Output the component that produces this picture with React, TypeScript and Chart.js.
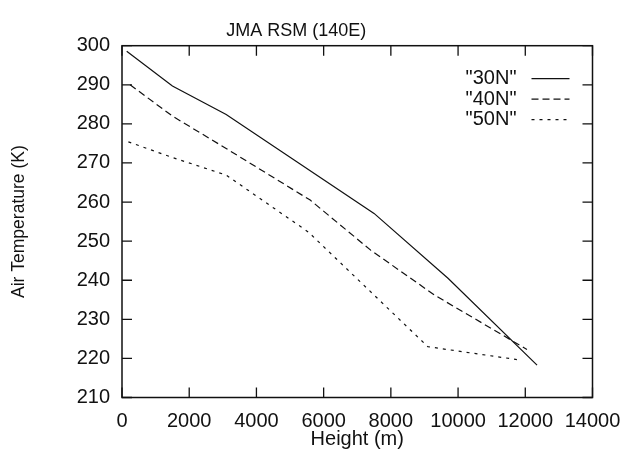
import React, { useEffect, useRef } from "react";
import { Chart, registerables } from "chart.js";

Chart.register(...registerables);

const TITLE = "JMA RSM (140E)";
const X_TITLE = "Height (m)";
const Y_TITLE = "Air Temperature (K)";

const SERIES_LABELS = ['"30N"', '"40N"', '"50N"'];

const H_30N = [140, 1500, 3100, 7500, 9700, 12350];
const T_30N = [298.6, 289.7, 282.4, 257.1, 240.5, 218.3];

const H_40N = [240, 1500, 3100, 5600, 7400, 9300, 12050];
const T_40N = [290.0, 282.0, 273.7, 260.5, 247.7, 236.2, 222.3];

const H_50N = [190, 1500, 3100, 5550, 9100, 11750];
const T_50N = [275.4, 271.4, 266.9, 252.3, 223.0, 219.7];

const X_MIN = 0;
const X_MAX = 14000;
const X_STEP = 2000;
const Y_MIN = 210;
const Y_MAX = 300;
const Y_STEP = 10;

const FONT = '"Liberation Sans", Arial, Helvetica, sans-serif';
const INK = "#111";

const pts = (xs: number[], ys: number[]) => xs.map((x, i) => ({ x, y: ys[i] }));

const framePlugin = {
  id: "gnuplotFrame",
  afterDatasetsDraw(chart: any) {
    const { ctx, chartArea: a, scales } = chart;
    const xs = scales.x;
    const ys = scales.y;
    const TL = 10;
    ctx.save();
    ctx.strokeStyle = INK;
    ctx.lineWidth = 1.5;
    ctx.setLineDash([]);
    ctx.strokeRect(a.left, a.top, a.right - a.left, a.bottom - a.top);
    ctx.lineWidth = 1.3;
    ctx.beginPath();
    xs.ticks.forEach((t: any) => {
      const px = xs.getPixelForValue(t.value);
      ctx.moveTo(px, a.bottom);
      ctx.lineTo(px, a.bottom - TL);
      ctx.moveTo(px, a.top);
      ctx.lineTo(px, a.top + TL);
    });
    ys.ticks.forEach((t: any) => {
      const py = ys.getPixelForValue(t.value);
      ctx.moveTo(a.left, py);
      ctx.lineTo(a.left + TL, py);
      ctx.moveTo(a.right, py);
      ctx.lineTo(a.right - TL, py);
    });
    ctx.stroke();

    // gnuplot-style key: label text on the left, line sample on the right
    ctx.font = `20px ${FONT}`;
    ctx.fillStyle = INK;
    ctx.textAlign = "right";
    ctx.textBaseline = "middle";
    chart.data.datasets.forEach((ds: any, i: number) => {
      const y = a.top + 33 + i * 20.5;
      ctx.fillText(ds.label, a.right - 76, y);
      ctx.beginPath();
      ctx.lineWidth = ds.borderWidth;
      ctx.setLineDash(ds.borderDash || []);
      ctx.moveTo(a.right - 61, y);
      ctx.lineTo(a.right - 23, y);
      ctx.stroke();
    });
    ctx.restore();
  },
};

export default function App() {
  const ref = useRef<HTMLCanvasElement | null>(null);

  useEffect(() => {
    document.body.style.margin = "0";
    const canvas = ref.current;
    if (!canvas) return;
    const common = {
      borderColor: INK,
      backgroundColor: INK,
      borderWidth: 1.2,
      pointRadius: 0,
      showLine: true,
      fill: false,
      tension: 0,
    };
    const chart = new Chart(canvas, {
      type: "scatter",
      data: {
        datasets: [
          { ...common, label: SERIES_LABELS[0], data: pts(H_30N, T_30N), borderDash: [] },
          { ...common, label: SERIES_LABELS[1], data: pts(H_40N, T_40N), borderDash: [7, 4] },
          { ...common, label: SERIES_LABELS[2], data: pts(H_50N, T_50N), borderDash: [3, 5] },
        ],
      },
      options: {
        responsive: false,
        animation: false,
        devicePixelRatio: 1,
        layout: { padding: { left: 0, right: 30.5, top: 0, bottom: 0 } },
        plugins: {
          legend: { display: false },
          tooltip: { enabled: false },
          title: {
            display: true,
            text: TITLE,
            color: INK,
            font: { family: FONT, size: 18, weight: "normal", lineHeight: 1.2 },
            padding: { top: 20, bottom: 4.1 },
          },
        },
        scales: {
          x: {
            type: "linear",
            min: X_MIN,
            max: X_MAX,
            afterFit: (s: any) => {
              s.height = 51.5;
              s.paddingLeft = 0;
              s.paddingRight = 0;
            },
            afterBuildTicks: (s: any) => {
              const t = [];
              for (let v = X_MIN; v <= X_MAX; v += X_STEP) t.push({ value: v });
              s.ticks = t;
            },
            grid: { display: false, drawTicks: false },
            border: { display: false },
            ticks: {
              color: INK,
              padding: 12,
              maxRotation: 0,
              autoSkip: false,
              font: { family: FONT, size: 20 },
              callback: (v: any) => String(v),
            },
            title: {
              display: true,
              text: X_TITLE,
              color: INK,
              font: { family: FONT, size: 20, lineHeight: 1.0 },
              padding: { top: 0, bottom: 0 },
            },
          },
          y: {
            type: "linear",
            min: Y_MIN,
            max: Y_MAX,
            afterFit: (s: any) => {
              s.width = 122;
              s.paddingTop = 0;
              s.paddingBottom = 0;
            },
            afterBuildTicks: (s: any) => {
              const t = [];
              for (let v = Y_MIN; v <= Y_MAX; v += Y_STEP) t.push({ value: v });
              s.ticks = t;
            },
            grid: { display: false, drawTicks: false },
            border: { display: false },
            ticks: {
              color: INK,
              padding: 12,
              autoSkip: false,
              font: { family: FONT, size: 20 },
              callback: (v: any) => String(v),
            },
            title: {
              display: true,
              text: Y_TITLE,
              color: INK,
              font: { family: FONT, size: 17.5, lineHeight: 1.2 },
              padding: { top: 9, bottom: 0 },
            },
          },
        },
      },
      plugins: [framePlugin],
    } as any);
    return () => chart.destroy();
  }, []);

  return (
    <div style={{ width: 623, height: 449 }}>
      <canvas ref={ref} width={623} height={449} style={{ display: "block" }} />
    </div>
  );
}
